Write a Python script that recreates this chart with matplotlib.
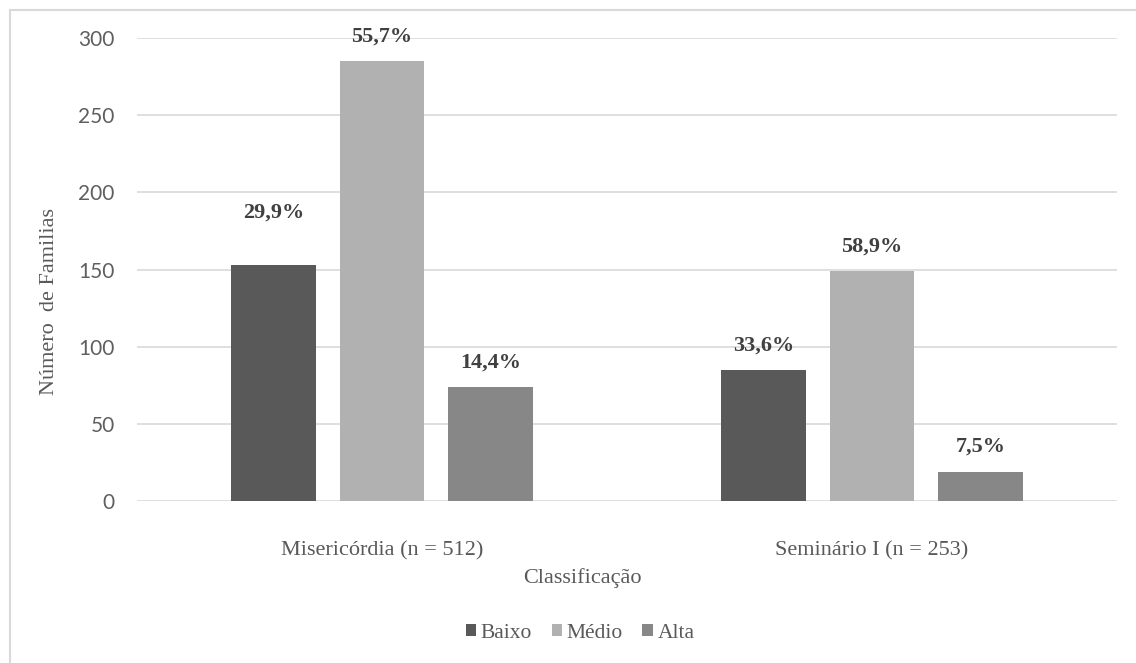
import numpy as np
import matplotlib.pyplot as plt
from matplotlib.lines import Line2D

# counts of families per class, by community
grupos = ['Misericórdia (n = 512)', 'Seminário I (n = 253)']
classes = ['Baixo', 'Médio', 'Alta']
baixo = [153, 85]
medio = [285, 149]
alta = [74, 19]
pct_baixo = ['29,9%', '33,6%']
pct_medio = ['55,7%', '58,9%']
pct_alta = ['14,4%', '7,5%']
cores = ['#595959', '#b1b1b1', '#878787']

SERIF = 'Liberation Serif'
SANS = 'Lato'
CINZA = '#595959'

fig = plt.figure(figsize=(11.36, 6.63), dpi=100)
ax = fig.add_axes([0.1206, 0.2443, 0.8627, 0.6984])

x = np.arange(len(grupos))
w = 0.173
step = 0.221
series = [baixo, medio, alta]
labels = [pct_baixo, pct_medio, pct_alta]
for i, (vals, lab) in enumerate(zip(series, labels)):
    pos = x + (i - 1) * step
    bars = ax.bar(pos, vals, width=w, color=cores[i], label=classes[i], zorder=3)
    for j, (b, t) in enumerate(zip(bars, lab)):
        # the first Baixo label sits higher above its bar
        off = 34 if (i == 0 and j == 0) else 16
        ax.text(b.get_x() + b.get_width() / 2, b.get_height() + off, t,
                ha='center', va='center', fontsize=16, fontweight='bold',
                color='#404040', family=SERIF)

ax.set_xlim(-0.5, 1.5)
ax.set_ylim(0, 300)
ax.grid(axis='y', color='#d9d9d9', linewidth=1.2, zorder=0)
for s in ax.spines.values():
    s.set_visible(False)
ax.tick_params(length=0)
ax.tick_params(axis='y', pad=16, labelsize=15, labelcolor='#5f5f5f')
ax.tick_params(axis='x', pad=36, labelsize=16, labelcolor=CINZA)
ax.set_yticks(range(0, 301, 50))
ax.set_yticklabels([str(v) for v in range(0, 301, 50)], family=SANS)
ax.set_xticks(x)
ax.set_xticklabels(grupos, family=SERIF, va='center')

fig.text(582 / 1136, 1 - 578 / 663, 'Classificação', ha='center', va='center',
         family=SERIF, fontsize=16, color=CINZA)
fig.text(50 / 1136, 1 - 302 / 663, 'Número  de Familias', rotation=90, ha='center',
         va='center', family=SERIF, fontsize=16, color=CINZA)

leg = fig.legend(loc='center', bbox_to_anchor=(580 / 1136, 1 - 633 / 663), ncol=3,
                 frameon=False, handlelength=0.5, handleheight=0.5, handletextpad=0.2,
                 columnspacing=0.9, prop={'family': SERIF, 'size': 15.5})
for t in leg.get_texts():
    t.set_color(CINZA)

# light frame round the chart area
fig.add_artist(Line2D([10 / 1136, 10 / 1136], [0, 1 - 10 / 663], color='#d9d9d9', lw=1.5))
fig.add_artist(Line2D([10 / 1136, 1], [1 - 10 / 663, 1 - 10 / 663], color='#d9d9d9', lw=1.5))

fig.savefig('out.png', dpi=100)
